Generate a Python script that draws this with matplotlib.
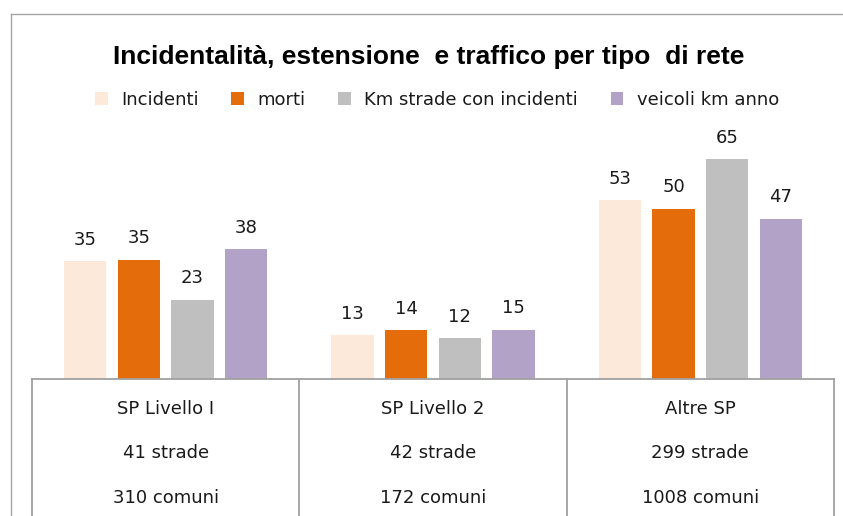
import matplotlib
matplotlib.use('Agg')
import matplotlib.pyplot as plt
from matplotlib.lines import Line2D
import numpy as np

# data
categories = ['SP Livello I', 'SP Livello 2', 'Altre SP']
n_strade = ['41 strade', '42 strade', '299 strade']
n_comuni = ['310 comuni', '172 comuni', '1008 comuni']
series_names = ['Incidenti', 'morti', 'Km strade con incidenti', 'veicoli km anno']
incidenti = [34.9, 13.0, 52.9]
morti = [35.3, 14.4, 50.4]
km_strade = [23.4, 12.1, 65.0]
veicoli_km = [38.4, 14.6, 47.4]

colors = ['#FDE9D9', '#E46C0A', '#BFBFBF', '#B3A2C7']
W, H = 843, 516

plt.rcParams['font.family'] = ['DejaVu Sans']

fig = plt.figure(figsize=(W / 100, H / 100), dpi=100)

# main bar axes
ax = fig.add_axes([32 / W, 137 / H, 802 / W, 239 / H])
x = np.arange(len(categories))
pitch = 0.2005
width = 0.158
for i, (name, vals) in enumerate(zip(series_names,
                                     [incidenti, morti, km_strade, veicoli_km])):
    bars = ax.bar(x + (i - 1.5) * pitch, vals, width, color=colors[i], label=name)
    ax.bar_label(bars, fmt='%.0f', padding=9, fontsize=13, color='#1a1a1a')
ax.set_xlim(-0.5, 2.5)
ax.set_ylim(0, 239 / 3.38)
ax.axis('off')

# table-like category box below the bars
tab = fig.add_axes([32 / W, -0.05, 802 / W, 137 / H + 0.05])
tab.set_xlim(-0.5, 2.5)
tab.set_ylim(-26, 137)
tab.set_xticks([])
tab.set_yticks([])
for s in ['left', 'right', 'top']:
    tab.spines[s].set_color('#A0A0A0')
    tab.spines[s].set_linewidth(1.3)
tab.spines['bottom'].set_visible(False)
for xv in [0.5, 1.5]:
    tab.axvline(xv, color='#A0A0A0', lw=1.3)
for i in range(len(categories)):
    tab.text(i, 107, categories[i], ha='center', va='center', fontsize=13, color='#1a1a1a')
    tab.text(i, 63, n_strade[i], ha='center', va='center', fontsize=13, color='#1a1a1a')
    tab.text(i, 18, n_comuni[i], ha='center', va='center', fontsize=13, color='#1a1a1a')

# outer chart frame (cropped at right and bottom)
fig.add_artist(Line2D([11 / W, 1], [1 - 13.5 / H, 1 - 13.5 / H], color='#A6A6A6', lw=1))
fig.add_artist(Line2D([11 / W, 11 / W], [0, 1 - 13.5 / H], color='#A6A6A6', lw=1))

fig.text(429 / W, 1 - 57 / H, 'Incidentalità, estensione  e traffico per tipo  di rete',
         ha='center', va='center', fontsize=19, fontweight='bold',
         family=['Liberation Sans', 'DejaVu Sans'])

fig.legend(loc='center', bbox_to_anchor=(437 / W, 1 - 100 / H), ncol=4, frameon=False,
           fontsize=13, handlelength=0.7, handleheight=0.7, handletextpad=0.75,
           columnspacing=1.8, labelcolor='#1a1a1a')

fig.savefig('out.png', dpi=100, facecolor='white')
